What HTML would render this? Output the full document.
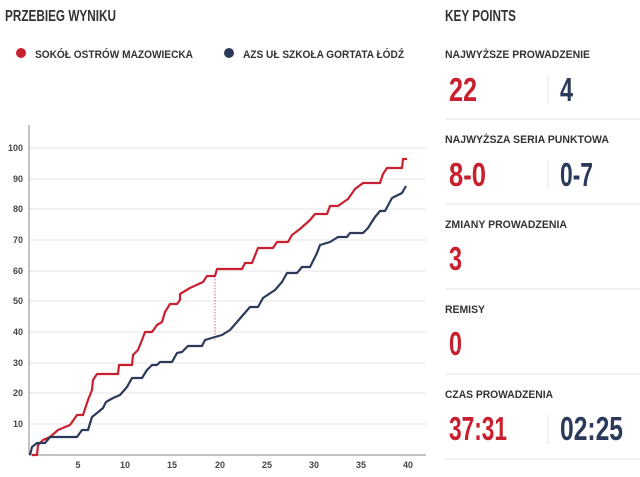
<!DOCTYPE html>
<html><head><meta charset="utf-8"><style>
html,body{margin:0;padding:0;background:#fff;width:640px;height:477px;overflow:hidden}
svg{display:block}
text{font-family:"Liberation Sans",sans-serif;font-weight:bold}
</style></head><body>
<svg width="640" height="477" viewBox="0 0 640 477" xmlns="http://www.w3.org/2000/svg">
<text x="5" y="21" font-size="16" fill="#333" textLength="111" lengthAdjust="spacingAndGlyphs">PRZEBIEG WYNIKU</text>
<circle cx="21" cy="53" r="5" fill="#c8202f"/>
<text x="35" y="58" font-size="11" fill="#333" textLength="158" lengthAdjust="spacingAndGlyphs">SOKÓŁ OSTRÓW MAZOWIECKA</text>
<circle cx="229" cy="53" r="5" fill="#2b3a5a"/>
<text x="243" y="58" font-size="11" fill="#333" textLength="161" lengthAdjust="spacingAndGlyphs">AZS UŁ SZKOŁA GORTATA ŁÓDŹ</text>

<g stroke="#e6e6e6" stroke-width="1">
<line x1="29" y1="148" x2="426" y2="148"/><line x1="29" y1="179" x2="426" y2="179"/>
<line x1="29" y1="209" x2="426" y2="209"/><line x1="29" y1="240" x2="426" y2="240"/>
<line x1="29" y1="271" x2="426" y2="271"/><line x1="29" y1="301" x2="426" y2="301"/>
<line x1="29" y1="332" x2="426" y2="332"/><line x1="29" y1="363" x2="426" y2="363"/>
<line x1="29" y1="393" x2="426" y2="393"/><line x1="29" y1="424" x2="426" y2="424"/>
</g>
<line x1="29" y1="125" x2="29" y2="455" stroke="#888" stroke-width="1"/>
<line x1="29" y1="455" x2="426" y2="455" stroke="#888" stroke-width="1"/>
<g font-size="9" fill="#444" text-anchor="end">
<text x="23" y="151">100</text><text x="23" y="182">90</text><text x="23" y="212">80</text>
<text x="23" y="243">70</text><text x="23" y="274">60</text><text x="23" y="304">50</text>
<text x="23" y="335">40</text><text x="23" y="366">30</text><text x="23" y="396">20</text>
<text x="23" y="427">10</text>
</g>
<g font-size="9" fill="#444" text-anchor="middle">
<text x="78" y="468">5</text><text x="125" y="468">10</text><text x="172" y="468">15</text>
<text x="220" y="468">20</text><text x="267" y="468">25</text><text x="314" y="468">30</text>
<text x="361" y="468">35</text><text x="408" y="468">40</text>
</g>
<line x1="215" y1="276" x2="215" y2="340" stroke="#c8202f" stroke-width="0.7" stroke-dasharray="1.5,1.5"/>
<polyline fill="none" stroke="#c8202f" stroke-width="2.2" stroke-linejoin="round" points="32,455 37,455 38,445 43,440 50,437 58,430 70,425 77,415 83,415 88,400 92,390 93,380 97,374 118,374 119,365 132,365 133,355 138,350 142,340 145,332 152,332 157,325 162,322 165,312 170,304 177,304 180,300 180,294 190,288 203,282 207,276 215,276 217,269 242,269 245,263 252,263 258,248 273,248 277,242 288,242 292,235 300,229 310,220 315,214 327,214 330,206 338,206 348,199 355,189 363,183 380,183 383,174 387,168 402,168 403,159 407,159"/>
<polyline fill="none" stroke="#2b3a5a" stroke-width="2.2" stroke-linejoin="round" points="30,455 32,447 37,443 45,443 50,437 77,437 82,430 88,430 92,417 97,413 103,408 106,402 113,398 120,395 127,387 132,378 142,378 147,370 152,365 157,365 160,362 172,362 177,353 182,352 188,346 202,346 205,340 215,337 222,335 230,330 237,322 243,315 250,307 258,307 263,298 275,290 282,282 287,273 297,273 302,267 310,267 317,253 320,245 330,242 338,237 347,237 350,233 363,233 368,228 375,217 380,211 385,211 392,198 402,193 406,186"/>

<text x="445" y="21" font-size="16" fill="#333" textLength="71" lengthAdjust="spacingAndGlyphs">KEY POINTS</text>
<g font-size="11" fill="#333">
<text x="445" y="58" textLength="145" lengthAdjust="spacingAndGlyphs">NAJWYŻSZE PROWADZENIE</text>
<text x="445" y="143" textLength="164" lengthAdjust="spacingAndGlyphs">NAJWYŻSZA SERIA PUNKTOWA</text>
<text x="445" y="228" textLength="122" lengthAdjust="spacingAndGlyphs">ZMIANY PROWADZENIA</text>
<text x="445" y="313" textLength="40" lengthAdjust="spacingAndGlyphs">REMISY</text>
<text x="445" y="398" textLength="108" lengthAdjust="spacingAndGlyphs">CZAS PROWADZENIA</text>
</g>
<g font-size="33">
<text x="449" y="101" fill="#c8202f" textLength="28" lengthAdjust="spacingAndGlyphs">22</text>
<text x="560" y="101" fill="#2b3a5a" textLength="13" lengthAdjust="spacingAndGlyphs">4</text>
<text x="449" y="186" fill="#c8202f" textLength="37" lengthAdjust="spacingAndGlyphs">8-0</text>
<text x="560" y="186" fill="#2b3a5a" textLength="33" lengthAdjust="spacingAndGlyphs">0-7</text>
<text x="449" y="270" fill="#c8202f" textLength="13" lengthAdjust="spacingAndGlyphs">3</text>
<text x="449" y="355" fill="#c8202f" textLength="13" lengthAdjust="spacingAndGlyphs">0</text>
<text x="449" y="440" fill="#c8202f" textLength="58" lengthAdjust="spacingAndGlyphs">37:31</text>
<text x="560" y="440" fill="#2b3a5a" textLength="63" lengthAdjust="spacingAndGlyphs">02:25</text>
</g>
<g stroke="#e3e3e3" stroke-width="1">
<line x1="445" y1="119" x2="640" y2="119"/><line x1="445" y1="204" x2="640" y2="204"/>
<line x1="445" y1="289" x2="640" y2="289"/><line x1="445" y1="374" x2="640" y2="374"/>
<line x1="445" y1="459" x2="640" y2="459"/>
<line x1="548" y1="75" x2="548" y2="104"/><line x1="548" y1="160" x2="548" y2="189"/>
<line x1="548" y1="415" x2="548" y2="444"/>
</g>
</svg>
</body></html>
